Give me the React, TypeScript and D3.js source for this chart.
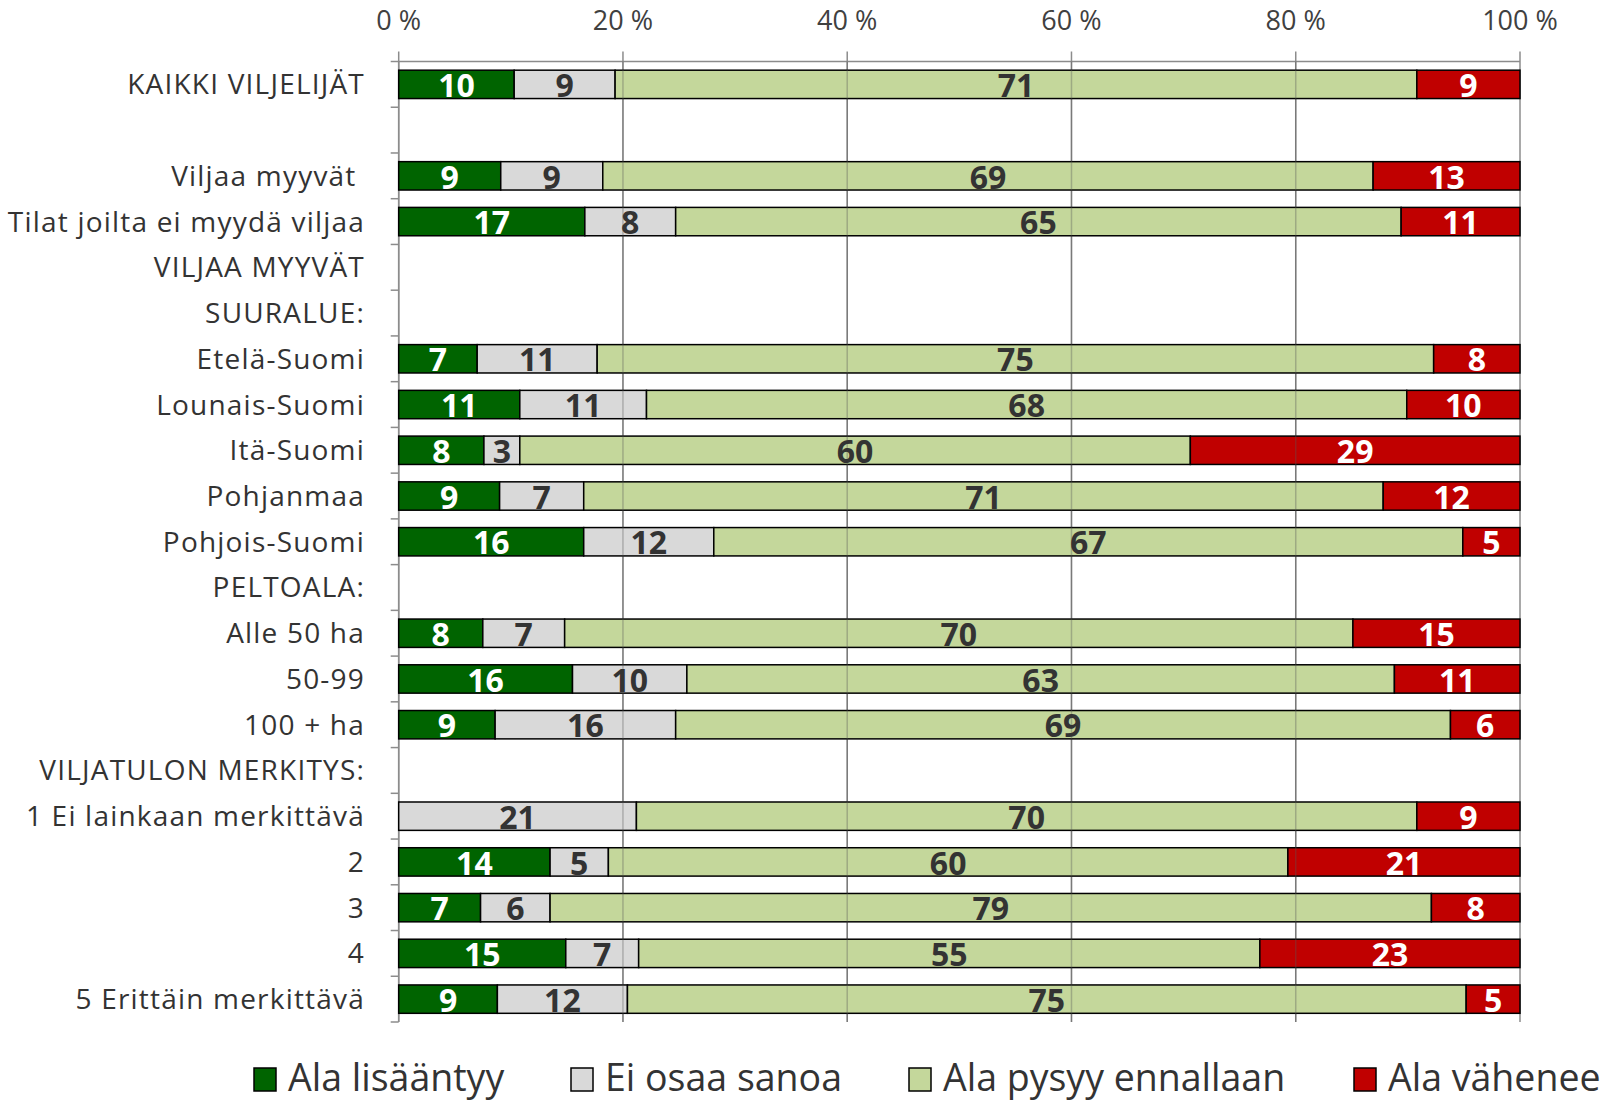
import * as d3 from 'd3';

const categories = [
  'KAIKKI VILJELIJÄT', '', 'Viljaa myyvät ', 'Tilat joilta ei myydä viljaa',
  'VILJAA MYYVÄT', 'SUURALUE:', 'Etelä-Suomi', 'Lounais-Suomi', 'Itä-Suomi',
  'Pohjanmaa', 'Pohjois-Suomi', 'PELTOALA:', 'Alle 50 ha', '50-99', '100 + ha',
  'VILJATULON MERKITYS:', '1 Ei lainkaan merkittävä', '2', '3', '4', '5 Erittäin merkittävä',
];

const seriesNames = ['Ala lisääntyy', 'Ei osaa sanoa', 'Ala pysyy ennallaan', 'Ala vähenee'];

// bar lengths (%), null = heading row
const lisaantyy = [10.3, null, 9.1, 16.6, null, null, 7.0, 10.8, 7.6, 9.0, 16.5, null, 7.5, 15.5, 8.6, null, 0, 13.5, 7.3, 14.9, 8.8];
const eiOsaa = [9.0, null, 9.1, 8.1, null, null, 10.7, 11.3, 3.2, 7.5, 11.6, null, 7.3, 10.2, 16.1, null, 21.2, 5.2, 6.2, 6.5, 11.6];
const pysyy = [71.5, null, 68.7, 64.7, null, null, 74.6, 67.8, 59.8, 71.3, 66.8, null, 70.3, 63.1, 69.1, null, 69.6, 60.6, 78.6, 55.4, 74.8];
const vahenee = [9.2, null, 13.1, 10.6, null, null, 7.7, 10.1, 29.4, 12.2, 5.1, null, 14.9, 11.2, 6.2, null, 9.2, 20.7, 7.9, 23.2, 4.8];

// data labels as printed
const lisaantyyLabels = [10, null, 9, 17, null, null, 7, 11, 8, 9, 16, null, 8, 16, 9, null, null, 14, 7, 15, 9];
const eiOsaaLabels = [9, null, 9, 8, null, null, 11, 11, 3, 7, 12, null, 7, 10, 16, null, 21, 5, 6, 7, 12];
const pysyyLabels = [71, null, 69, 65, null, null, 75, 68, 60, 71, 67, null, 70, 63, 69, null, 70, 60, 79, 55, 75];
const vaheneeLabels = [9, null, 13, 11, null, null, 8, 10, 29, 12, 5, null, 15, 11, 6, null, 9, 21, 8, 23, 5];

const xTicks = [0, 20, 40, 60, 80, 100];

const colors = ['#006400', '#d9d9d9', '#c4d79b', '#c00000'];
const labelColors = ['#ffffff', '#333333', '#333333', '#ffffff'];

const width = 1607;
const height = 1101;
const margin = { top: 61.5, right: 87, bottom: 79, left: 398.7 };

const font = '"Open Sans", "Noto Sans", sans-serif';

function App() {
  const allValues = [lisaantyy, eiOsaa, pysyy, vahenee];
  const allLabels = [lisaantyyLabels, eiOsaaLabels, pysyyLabels, vaheneeLabels];

  const rows = categories.map((c, i) => {
    const r: any = { id: String(i), name: c, empty: lisaantyy[i] === null };
    seriesNames.forEach((s, k) => { r[s] = allValues[k][i] ?? 0; });
    return r;
  });

  const stacked = d3.stack().keys(seriesNames)(rows);

  const x = d3.scaleLinear().domain([0, 100]).range([margin.left, width - margin.right]);
  const y = d3.scaleBand()
    .domain(rows.map(r => r.id))
    .range([margin.top, height - margin.bottom])
    .paddingInner(0.38)
    .paddingOuter(0.19);

  const step = y.step();
  const plotTop = margin.top;
  const plotBottom = height - margin.bottom;
  const bw = y.bandwidth();

  const legendX = [254, 571, 909, 1354];

  return (
    <svg width={width} height={height} style={{ position: 'absolute', left: 0, top: 0, background: '#fff' }}>
      {/* gridlines under */}
      {xTicks.map(t => (
        <line key={'g' + t} x1={x(t)} x2={x(t)} y1={plotTop - 10} y2={plotBottom} stroke="#8c8c8c" strokeWidth={1.5} />
      ))}
      <line x1={x(0)} x2={x(100)} y1={plotTop} y2={plotTop} stroke="#8c8c8c" strokeWidth={1.5} />
      {/* left axis */}
      <line x1={x(0)} x2={x(0)} y1={plotTop} y2={plotBottom} stroke="#8c8c8c" strokeWidth={1.5} />
      {d3.range(rows.length + 1).map(i => (
        <line key={'yt' + i} x1={x(0) - 8} x2={x(0)} y1={plotTop + i * step} y2={plotTop + i * step} stroke="#8c8c8c" strokeWidth={1.5} />
      ))}

      {/* bars */}
      {stacked.map((layer, k) => (
        <g key={layer.key}>
          {layer.map((d, i) => {
            if (rows[i].empty || d[1] - d[0] <= 0) return null;
            return (
              <rect key={i} x={x(d[0])} y={y(rows[i].id)} width={x(d[1]) - x(d[0])} height={bw}
                fill={colors[k]} stroke="#000" strokeWidth={1.5} />
            );
          })}
        </g>
      ))}

      {/* gridlines showing through bars */}
      {xTicks.slice(1, -1).map(t => (
        <line key={'go' + t} x1={x(t)} x2={x(t)} y1={plotTop} y2={plotBottom} stroke="#555" strokeOpacity={0.35} strokeWidth={1.5} />
      ))}

      {/* data labels */}
      {stacked.map((layer, k) => (
        <g key={'l' + layer.key}>
          {layer.map((d, i) => {
            const lab = allLabels[k][i];
            if (lab === null || rows[i].empty) return null;
            return (
              <text key={i} x={(x(d[0]) + x(d[1])) / 2} y={(y(rows[i].id) as number) + bw - 1.5}
                textAnchor="middle" fontFamily={font} fontWeight="bold" fontSize={32} fill={labelColors[k]}>
                {lab}
              </text>
            );
          })}
        </g>
      ))}

      {/* category labels */}
      {rows.map(r => (
        <text key={'c' + r.id} x={365} y={(y(r.id) as number) + bw / 2 + 10} textAnchor="end"
          fontFamily={font} fontSize={28} letterSpacing={1.2} fill="#333" style={{ whiteSpace: 'pre' }}>
          {r.name}
        </text>
      ))}

      {/* top tick labels */}
      {xTicks.map(t => (
        <text key={'xl' + t} x={x(t)} y={30} textAnchor="middle" fontFamily={font} fontSize={27} fill="#404040">
          {t} %
        </text>
      ))}

      {/* legend */}
      {seriesNames.map((s, k) => (
        <g key={'lg' + s} transform={`translate(${legendX[k]}, 1068)`}>
          <rect x={0} y={0} width={22} height={23} fill={colors[k]} stroke="#000" strokeWidth={1.5} />
          <text x={34} y={23} fontFamily={font} fontSize={37.5} fill="#333">{s}</text>
        </g>
      ))}
    </svg>
  );
}

export default App;
